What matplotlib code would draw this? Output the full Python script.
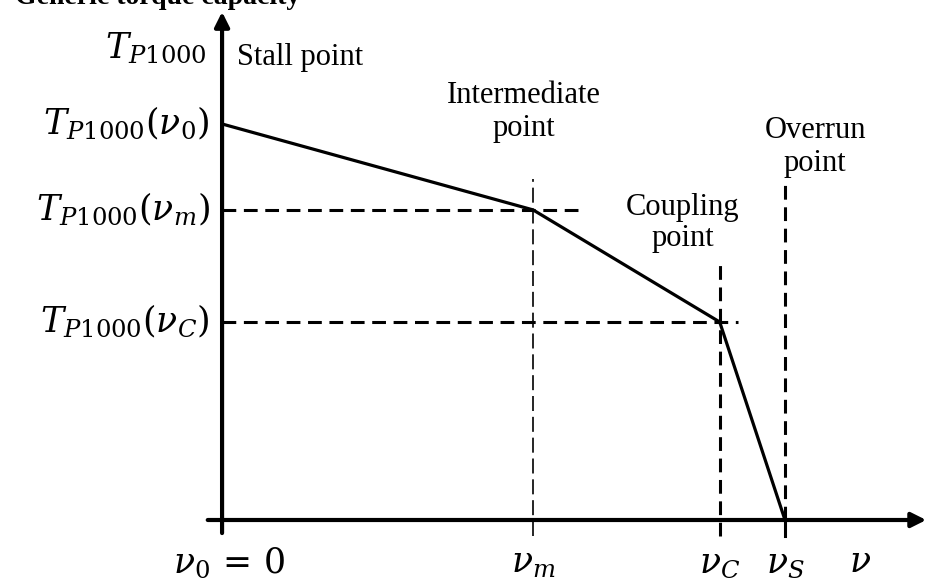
import matplotlib
matplotlib.use("Agg")
import matplotlib.pyplot as plt

plt.rcParams['font.family'] = ['Liberation Serif', 'DejaVu Serif']
plt.rcParams['mathtext.fontset'] = 'dejavuserif'

# characteristic speeds (normalised, v_m = 1)
nu_names = ['0', 'm', 'C', 'S']
nu_vals = [0.0, 1.0, 1.60, 1.81]
# torque capacity at those points (normalised, T(v0) = 1)
torque_vals = [1.0, 0.783, 0.50, 0.0]

point_names = ['Stall point', 'Intermediate\npoint', 'Coupling\npoint', 'Overrun\npoint']

fig = plt.figure(figsize=(9.29, 5.80), dpi=100)
ax = fig.add_axes([0, 0, 1, 1])
ax.set_xlim(-0.714, 2.273)
ax.set_ylim(-0.1515, 1.313)
ax.axis('off')

# axes with arrows
ax.annotate('', xy=(2.273, 0), xytext=(-0.055, 0),
            arrowprops=dict(arrowstyle='-|>', lw=3, color='black', mutation_scale=22))
ax.annotate('', xy=(0, 1.29), xytext=(0, -0.04),
            arrowprops=dict(arrowstyle='-|>', lw=3, color='black', mutation_scale=22))

# torque curve
ax.plot(nu_vals, torque_vals, color='black', lw=2.3, solid_joinstyle='miter')

# dashed guides
ax.plot([0, 1.15], [torque_vals[1]] * 2, color='black', lw=2.2, dashes=(4.5, 2.5))
ax.plot([0, 1.66], [torque_vals[2]] * 2, color='black', lw=2.2, dashes=(4.5, 2.5))
ax.plot([nu_vals[1]] * 2, [-0.04, 0.86], color='black', lw=1.2, dashes=(9, 3.5))
ax.plot([nu_vals[2]] * 2, [-0.04, 0.645], color='black', lw=2.2, dashes=(4.5, 2.5))
ax.plot([nu_vals[3]] * 2, [0, 0.86], color='black', lw=2.2, dashes=(4.5, 2.5))

# tick marks on the speed axis
ax.plot([nu_vals[3]] * 2, [-0.04, 0], color='black', lw=2.2)

# y labels
fs = 25
ax.text(-0.05, 1.19, r'$T_{P1000}$', fontsize=fs, ha='right', va='center')
ylabels = [r'$T_{P1000}(\nu_0)$', r'$T_{P1000}(\nu_m)$', r'$T_{P1000}(\nu_C)$']
for lab, t in zip(ylabels, torque_vals[:3]):
    ax.text(-0.04, t, lab, fontsize=fs, ha='right', va='center')

# x labels
ax.text(-0.158, -0.11, r'$\nu_0\,=\,0$', fontsize=fs, ha='left', va='center')
for n, v in zip(nu_names[1:], nu_vals[1:]):
    ax.text(v, -0.11, r'$\nu_{%s}$' % n, fontsize=fs, ha='center', va='center')
ax.text(2.05, -0.11, r'$\nu$', fontsize=fs, ha='center', va='center')

# point annotations
fs2 = 22
ax.text(0.048, 1.169, point_names[0], fontsize=fs2, ha='left', va='center')
ax.text(0.971, 1.03, point_names[1], fontsize=fs2, ha='center', va='center',
        linespacing=1.15)
ax.text(1.482, 0.75, point_names[2], fontsize=fs2, ha='center', va='center',
        linespacing=1.1)
ax.text(1.907, 0.942, point_names[3], fontsize=fs2, ha='center', va='center',
        linespacing=1.15)

fig.text(0.016, 1 - 4 / 580, 'Generic torque capacity', fontsize=20,
         fontweight='bold', ha='left', va='baseline')

fig.savefig('out.png', dpi=100)
